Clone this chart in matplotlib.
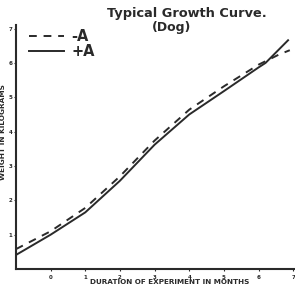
import matplotlib
matplotlib.use("Agg")
import matplotlib.pyplot as plt

# Data
months_minus = [-1, 0, 1, 2, 3, 4, 5, 6, 6.6, 6.9]
weight_minus = [0.58, 1.10, 1.78, 2.70, 3.74, 4.64, 5.32, 5.95, 6.25, 6.37]
months_plus = [-1, 0, 1, 2, 3, 4, 5, 6, 6.2, 6.85]
weight_plus = [0.41, 1.00, 1.65, 2.57, 3.62, 4.50, 5.18, 5.87, 6.00, 6.66]
x_ticks = [0, 1, 2, 3, 4, 5, 6, 7]
y_ticks = [1, 2, 3, 4, 5, 6, 7]
series_labels = ["-A", "+A"]
title_line1 = "Typical Growth Curve."
title_line2 = "(Dog)"
x_label = "DURATION OF EXPERIMENT IN MONTHS"
y_label = "WEIGHT IN KILOGRAMS"

fig = plt.figure(figsize=(2.95, 2.89), dpi=100)
ax = fig.add_axes([0.054, 0.069, 0.946, 0.844])

ink = "#2a2a2a"
l1, = ax.plot(months_minus, weight_minus, color=ink, lw=1.4, ls=(0, (4, 3.5)))
l2, = ax.plot(months_plus, weight_plus, color=ink, lw=1.4)

ax.set_xlim(-1, 7.05)
ax.set_ylim(0, 7.1)
ax.set_xticks(x_ticks)
ax.set_yticks(y_ticks)
ax.set_xticklabels([str(v) for v in x_ticks], fontsize=4, fontweight="bold")
ax.set_yticklabels([str(v) for v in y_ticks], fontsize=4, fontweight="bold")
ax.tick_params(axis="x", length=1.5, width=0.8, pad=3, colors=ink)
ax.tick_params(axis="y", length=1.5, width=0.8, pad=1, colors=ink)

for s in ["top", "right"]:
    ax.spines[s].set_visible(False)
for s in ["left", "bottom"]:
    ax.spines[s].set_linewidth(1.5)
    ax.spines[s].set_color(ink)

ax.set_xlabel(x_label, fontsize=5.2, fontweight="bold", color=ink, va="center")
ax.xaxis.set_label_coords(0.55, -0.053)
ax.set_ylabel(y_label, fontsize=5.3, fontweight="bold", labelpad=3, color=ink)
ax.yaxis.set_label_coords(-0.035, 0.56)

fig.text(107 / 295, 1 - 7 / 289, title_line1, ha="left", va="top", fontsize=9.3,
         fontweight="bold", color=ink)
fig.text(152 / 295, 1 - 21 / 289, title_line2, ha="left", va="top", fontsize=9.0,
         fontweight="bold", color=ink)

leg = ax.legend([l1, l2], series_labels, loc="upper left",
                bbox_to_anchor=(0.015, 1.02), frameon=False,
                prop={"size": 10.5, "weight": "bold"}, handlelength=2.4,
                handletextpad=0.5, labelspacing=0.02, borderaxespad=0.2)
for t in leg.get_texts():
    t.set_color(ink)

fig.savefig("out.png", dpi=100)
